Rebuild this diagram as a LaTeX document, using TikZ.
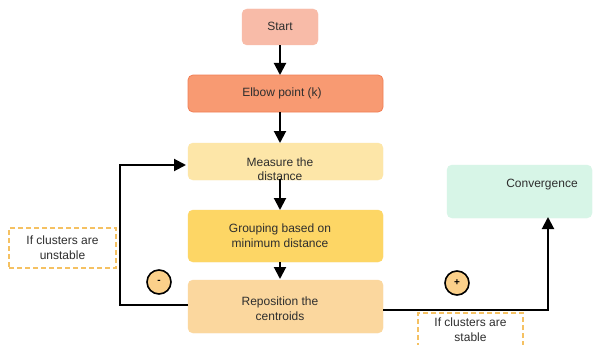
\documentclass[tikz,border=0pt]{standalone}
\usepackage{fontspec}
\setmainfont{Liberation Sans}
\usetikzlibrary{arrows.meta}
\definecolor{cStart}{HTML}{F8BBA8}
\definecolor{cElbow}{HTML}{F89A72}
\definecolor{cElbowB}{HTML}{F27E55}
\definecolor{cMeas}{HTML}{FDE6A8}
\definecolor{cGroup}{HTML}{FDD665}
\definecolor{cRepos}{HTML}{FBD79E}
\definecolor{cConv}{HTML}{D7F5E7}
\definecolor{cDash}{HTML}{F5C162}
\definecolor{cCirc}{HTML}{FBD08A}
\definecolor{cText}{HTML}{2E2E2E}
\tikzset{
  box/.style={rectangle, rounded corners=5pt, draw=#1, fill=#1, inner sep=0pt},
  txt/.style={font=\fontsize{12}{14.5}\selectfont, text=cText, align=center, inner sep=0pt},
  conn/.style={draw=black, line width=2pt, -{Triangle[length=12pt,width=12pt]}},
  dashbox/.style={rectangle, draw=cDash, line width=1.3pt, dash pattern=on 5pt off 3pt, fill=white, inner sep=0pt},
  sign/.style={circle, draw=black, line width=1.6pt, fill=cCirc, minimum size=24pt, inner sep=0pt, font=\fontsize{10}{10}\selectfont\bfseries}
}
\begin{document}
\begin{tikzpicture}[x=1pt,y=-1pt]
\useasboundingbox (0,0) rectangle (594,345);
\fill[white] (0,0) rectangle (594,345);
\begin{scope}
\clip (0,0) rectangle (594,345);
% boxes
\node[box=cStart, minimum width=76pt, minimum height=36pt] (Start) at (280,27) {};
\node[box=cElbow, draw=cElbowB, line width=0.8pt, minimum width=195pt, minimum height=37pt] (Elbow) at (285.5,93.5) {};
\node[box=cMeas, minimum width=195pt, minimum height=37pt] (Meas) at (285.5,161.5) {};
\node[box=cGroup, minimum width=195pt, minimum height=52pt] (Group) at (285.5,236) {};
\node[box=cRepos, minimum width=195pt, minimum height=53pt] (Repos) at (285.5,306.5) {};
\node[box=cConv, minimum width=145pt, minimum height=53pt] (Conv) at (519.5,191.5) {};
% texts
\node[txt] (tStart) at (280,26) {Start};
\node[txt] (tElbow) at (282,93) {Elbow point (k)};
\node[txt] (tMeas) at (280,169) {Measure the\\distance};
\node[txt] (tGroup) at (280,235.5) {Grouping based on\\minimum distance};
\node[txt] (tRepos) at (280,308.5) {Reposition the\\centroids};
\node[txt] (tConv) at (542,185) {Convergence};
% vertical connectors
\coordinate (eTop) at (280,75);
\coordinate (mTop) at (280,143);
\coordinate (gTop) at (280,210);
\coordinate (rTop) at (280,279);
\coordinate (mBot) at (280,179);
\coordinate (gBot) at (280,262);
\draw[conn] (Start.south) -- (eTop);
\draw[conn] (Elbow.south -| eTop) -- (mTop);
\draw[conn] (mBot) -- (gTop);
\draw[conn] (gBot) -- (rTop);
% loop back
\coordinate (lBot) at (188,305);
\coordinate (lCorner) at (120,305);
\coordinate (lTop) at (120,165);
\coordinate (lEnd) at (186,165);
\draw[conn] (lBot) -- (lCorner) -- (lTop) -- (lEnd);
% to convergence
\coordinate (rStart) at (383,310);
\coordinate (rCorner) at (548,310);
\coordinate (rEnd) at (548,217);
\draw[conn] (rStart) -- (rCorner) -- (rEnd);
% signs
\node[sign] (minus) at (159,282) {-};
\node[sign] (plus) at (457,283) {+};
% dashed notes
\node[dashbox, minimum width=107pt, minimum height=40pt] (nUnst) at (62.5,248) {};
\node[txt] (tUnst) at (62.5,247.5) {If clusters are\\unstable};
\node[dashbox, minimum width=105pt, minimum height=40pt] (nStab) at (470.5,333) {};
\node[txt] (tStab) at (470.5,329.5) {If clusters are\\stable};
\end{scope}
\end{tikzpicture}
\end{document}
